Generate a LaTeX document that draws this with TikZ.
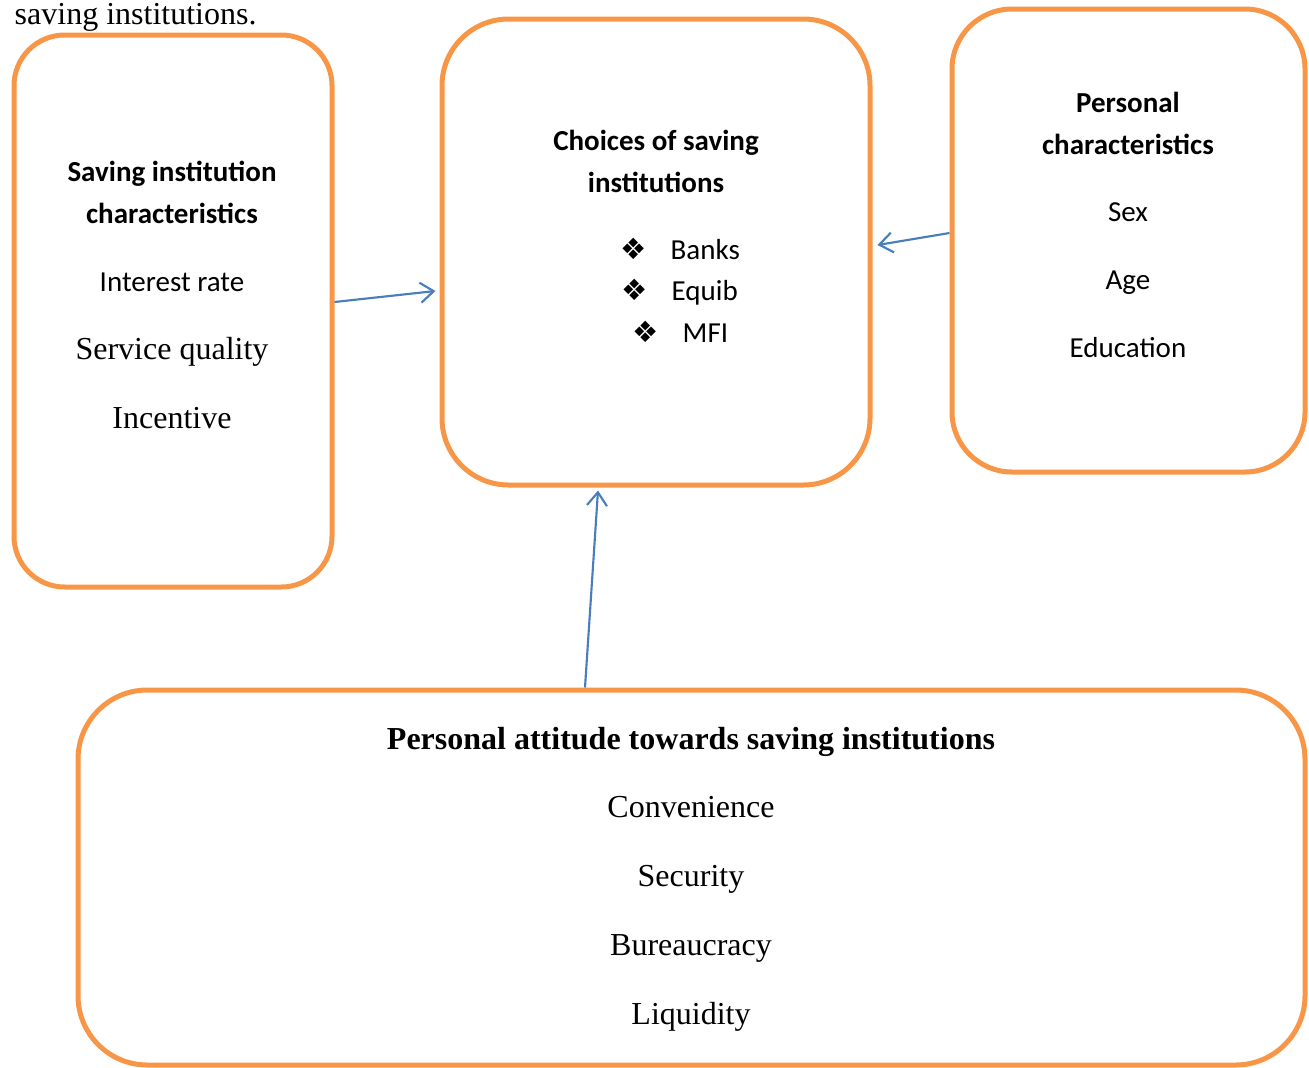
\documentclass[tikz,border=0pt]{standalone}
\usepackage{fontspec}
\setmainfont{Liberation Serif}
\newfontfamily\calfont{Carlito}
\newfontfamily\symfont{DejaVu Sans}
\usetikzlibrary{arrows.meta}
\definecolor{boxorange}{HTML}{F79646}
\definecolor{linkblue}{HTML}{4A7EBB}
\tikzset{
  frame/.style={draw=boxorange,line width=3.75pt,rounded corners=#1,inner sep=0pt},
  link/.style={draw=linkblue,line width=1.6pt,-{Straight Barb[length=10pt,width=15pt]}},
  cal/.style={font=\calfont\fontsize{21.75}{26}\selectfont,anchor=base},
  calb/.style={font=\calfont\bfseries\fontsize{21.75}{26}\selectfont,anchor=base},
  rom/.style={font=\fontsize{24}{28}\selectfont,anchor=base},
  romb/.style={font=\bfseries\fontsize{24}{28}\selectfont,anchor=base},
  bul/.style={font=\symfont\fontsize{22}{24}\selectfont,anchor=base}
}
\begin{document}
\begin{tikzpicture}[x=.75pt,y=-.75pt]
  \useasboundingbox (0,0) rectangle (1309,1067);
  \node[rom,anchor=base west] (cap) at (10,24) {saving institutions.};
  % boxes
  \node[frame=38pt,minimum width=238.5pt,minimum height=414pt] (instbox) at (173,311) {};
  \node[frame=50pt,minimum width=321pt,minimum height=349.5pt] (choicebox) at (656,252) {};
  \node[frame=45pt,minimum width=264.75pt,minimum height=347.25pt] (persbox) at (1128.5,240.5) {};
  \node[frame=52pt,minimum width=920.25pt,minimum height=281.25pt] (attbox) at (691.5,877.5) {};
  % saving institution characteristics
  \node[calb] (inst1) at (172,181) {Saving institution};
  \node[calb] (inst2) at (172,223) {characteristics};
  \node[cal] (inst3) at (172,291) {Interest rate};
  \node[rom] (inst4) at (172,359) {Service quality};
  \node[rom] (inst5) at (172,428) {Incentive};
  % choices
  \node[calb] (cho1) at (656,150) {Choices of saving};
  \node[calb] (cho2) at (656,192) {institutions};
  \foreach \sx/\tx/\y/\lab [count=\i] in {634/666/259/Banks,635/667/300/Equib,646/678/342/MFI}{
    \node[bul] (chs\i) at (\sx,\y) {❖};
    \node[cal,anchor=base west] (cht\i) at (\tx,\y) {\lab};
  }
  % personal characteristics
  \node[calb] (per1) at (1128,112) {Personal};
  \node[calb] (per2) at (1128,154) {characteristics};
  \foreach \lab [count=\i] in {Sex,Age,Education}
    \node[cal] (per\i x) at (1128,{221+68*(\i-1)}) {\lab};
  % attitude
  \node[romb] (att0) at (691,749) {Personal attitude towards saving institutions};
  \foreach \lab [count=\i] in {Convenience,Security,Bureaucracy,Liquidity}
    \node[rom] (att\i) at (691,{817+69*(\i-1)}) {\lab};
  % links
  \draw[link] ([shift={(0,-9)}]instbox.east) -- ([shift={(-4,39)}]choicebox.west);
  \draw[link] ([shift={(0,-7.5)}]persbox.west) -- ([shift={(5,-7)}]choicebox.east);
  \draw[link] ([shift={(-106.5,0)}]attbox.north) -- ([shift={(-58,3)}]choicebox.south);
\end{tikzpicture}
\end{document}
